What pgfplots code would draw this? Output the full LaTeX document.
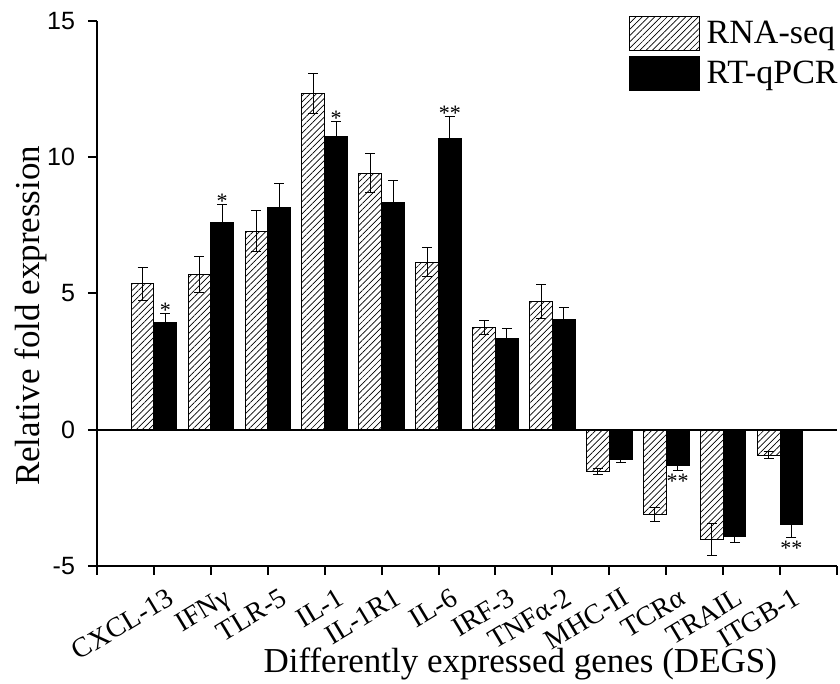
\documentclass[border=0pt]{standalone}
\usepackage{fontspec}
\setmainfont{Liberation Serif}
\setsansfont{Liberation Sans}
\usepackage{pgfplots}
\pgfplotsset{compat=1.18}
\usepackage{pgfplotstable}
\usetikzlibrary{patterns.meta,calc}

% fold expression, errors
\pgfplotstableread{
x   rna    rnaerr  rt     rterr
1   5.35   0.62    3.94   0.31
2   5.70   0.67    7.60   0.67
3   7.29   0.76    8.15   0.89
4   12.34  0.74    10.77  0.53
5   9.41   0.71    8.33   0.80
6   6.15   0.53    10.67  0.81
7   3.76   0.25    3.36   0.34
8   4.71   0.62    4.03   0.44
9   -1.53  0.10    -1.08  0.13
10  -3.11  0.24    -1.32  0.16
11  -4.03  0.59    -3.90  0.22
12  -0.94  0.13    -3.48  0.47
}\genes

% significance marks (at end of RT-qPCR error bars)
\pgfplotstableread{
x     y      lab
1.2   4.25   *
2.2   8.27   *
4.2   11.30  *
6.2   11.48  **
}\starsup
\pgfplotstableread{
x     y      lab
10.2  -1.48  **
12.2  -3.95  **
}\starsdown

\begin{document}
\begin{tikzpicture}
\begin{axis}[
  scale only axis,
  width=370pt, height=272.5pt,
  xmin=0, xmax=13, ymin=-5, ymax=15,
  axis lines*=left,
  axis line style={line width=1pt},
  tick align=outside,
  major tick length=4.5pt,
  tick style={line width=1pt, black},
  xtick={0,...,13},
  xticklabels={,CXCL-13,IFNγ,TLR-5,IL-1,IL-1R1,IL-6,IRF-3,TNFα-2,MHC-II,TCRα,TRAIL,ITGB-1,},
  xticklabel style={rotate=31, anchor=north east, font=\fontsize{14}{15}\selectfont, xshift=3pt, yshift=-7pt, inner sep=1pt},
  ytick={-5,0,5,10,15},
  yticklabels={-5,0,5,10,15},
  yticklabel style={font=\sffamily\fontsize{12.5}{14}\selectfont, xshift=-3pt},
  extra y ticks={0},
  extra y tick labels={},
  extra y tick style={grid=major, major grid style={black, line width=1pt}, major tick length=0pt},
  xlabel={Differently expressed genes (DEGS)},
  ylabel={Relative fold expression},
  label style={font=\fontsize{17.5}{20}\selectfont},
  xlabel style={at={($(rel axis cs:0.572,0)+(0,-53.5pt)$)}, anchor=base},
  ylabel style={at={($(rel axis cs:0,0.459)+(-25pt,0)$)}, anchor=south, inner sep=0pt},
  legend cell align=left,
  legend style={at={(rel axis cs:1,1)}, anchor=north east, yshift=2.5pt, xshift=0.5pt,
    draw=none, fill=none, inner sep=0pt, row sep=2.5pt,
    font=\fontsize{17}{19}\selectfont,
    nodes={inner sep=0pt},
    /tikz/every odd column/.append style={column sep=3.5pt}},
  legend image code/.code={\draw[#1] (0pt,-8.5pt) rectangle (35pt,8.5pt);},
  clip=false,
]
\addplot[ybar, bar width=0.4, bar shift=0pt, draw=black, line width=0.5pt,
  pattern={Lines[angle=45, distance=2.2pt, line width=0.35pt]}, pattern color=black,
  error bars/.cd, y dir=both, y explicit,
  error bar style={line width=0.5pt, black},
  error mark options={rotate=90, mark size=2.5pt, line width=0.5pt, black}]
  table[x expr=\thisrow{x}-0.2, y=rna, y error=rnaerr] {\genes};
\addlegendentry{RNA-seq}
\addplot[ybar, bar width=0.4, bar shift=0pt, draw=black, fill=black, line width=0.5pt,
  error bars/.cd, y dir=both, y explicit,
  error bar style={line width=0.5pt, black},
  error mark options={rotate=90, mark size=2.5pt, line width=0.5pt, black}]
  table[x expr=\thisrow{x}+0.2, y=rt, y error=rterr] {\genes};
\addlegendentry{RT-qPCR}
\addplot[draw=none, mark=none, forget plot,
  nodes near coords, point meta=explicit symbolic,
  every node near coord/.style={anchor=base, yshift=-2pt, inner sep=0pt, font=\fontsize{11}{12}\selectfont}]
  table[x=x, y=y, meta=lab] {\starsup};
\addplot[draw=none, mark=none, forget plot,
  nodes near coords, point meta=explicit symbolic,
  every node near coord/.style={anchor=base, yshift=-9pt, inner sep=0pt, font=\fontsize{11}{12}\selectfont}]
  table[x=x, y=y, meta=lab] {\starsdown};
\end{axis}
% page size and white margin as in the reference
\pgfresetboundingbox
\useasboundingbox ($(current axis.south west)+(-48.5pt,-59pt)$) rectangle ($(current axis.north east)+(1.5pt,10.5pt)$);
\end{tikzpicture}
\end{document}
